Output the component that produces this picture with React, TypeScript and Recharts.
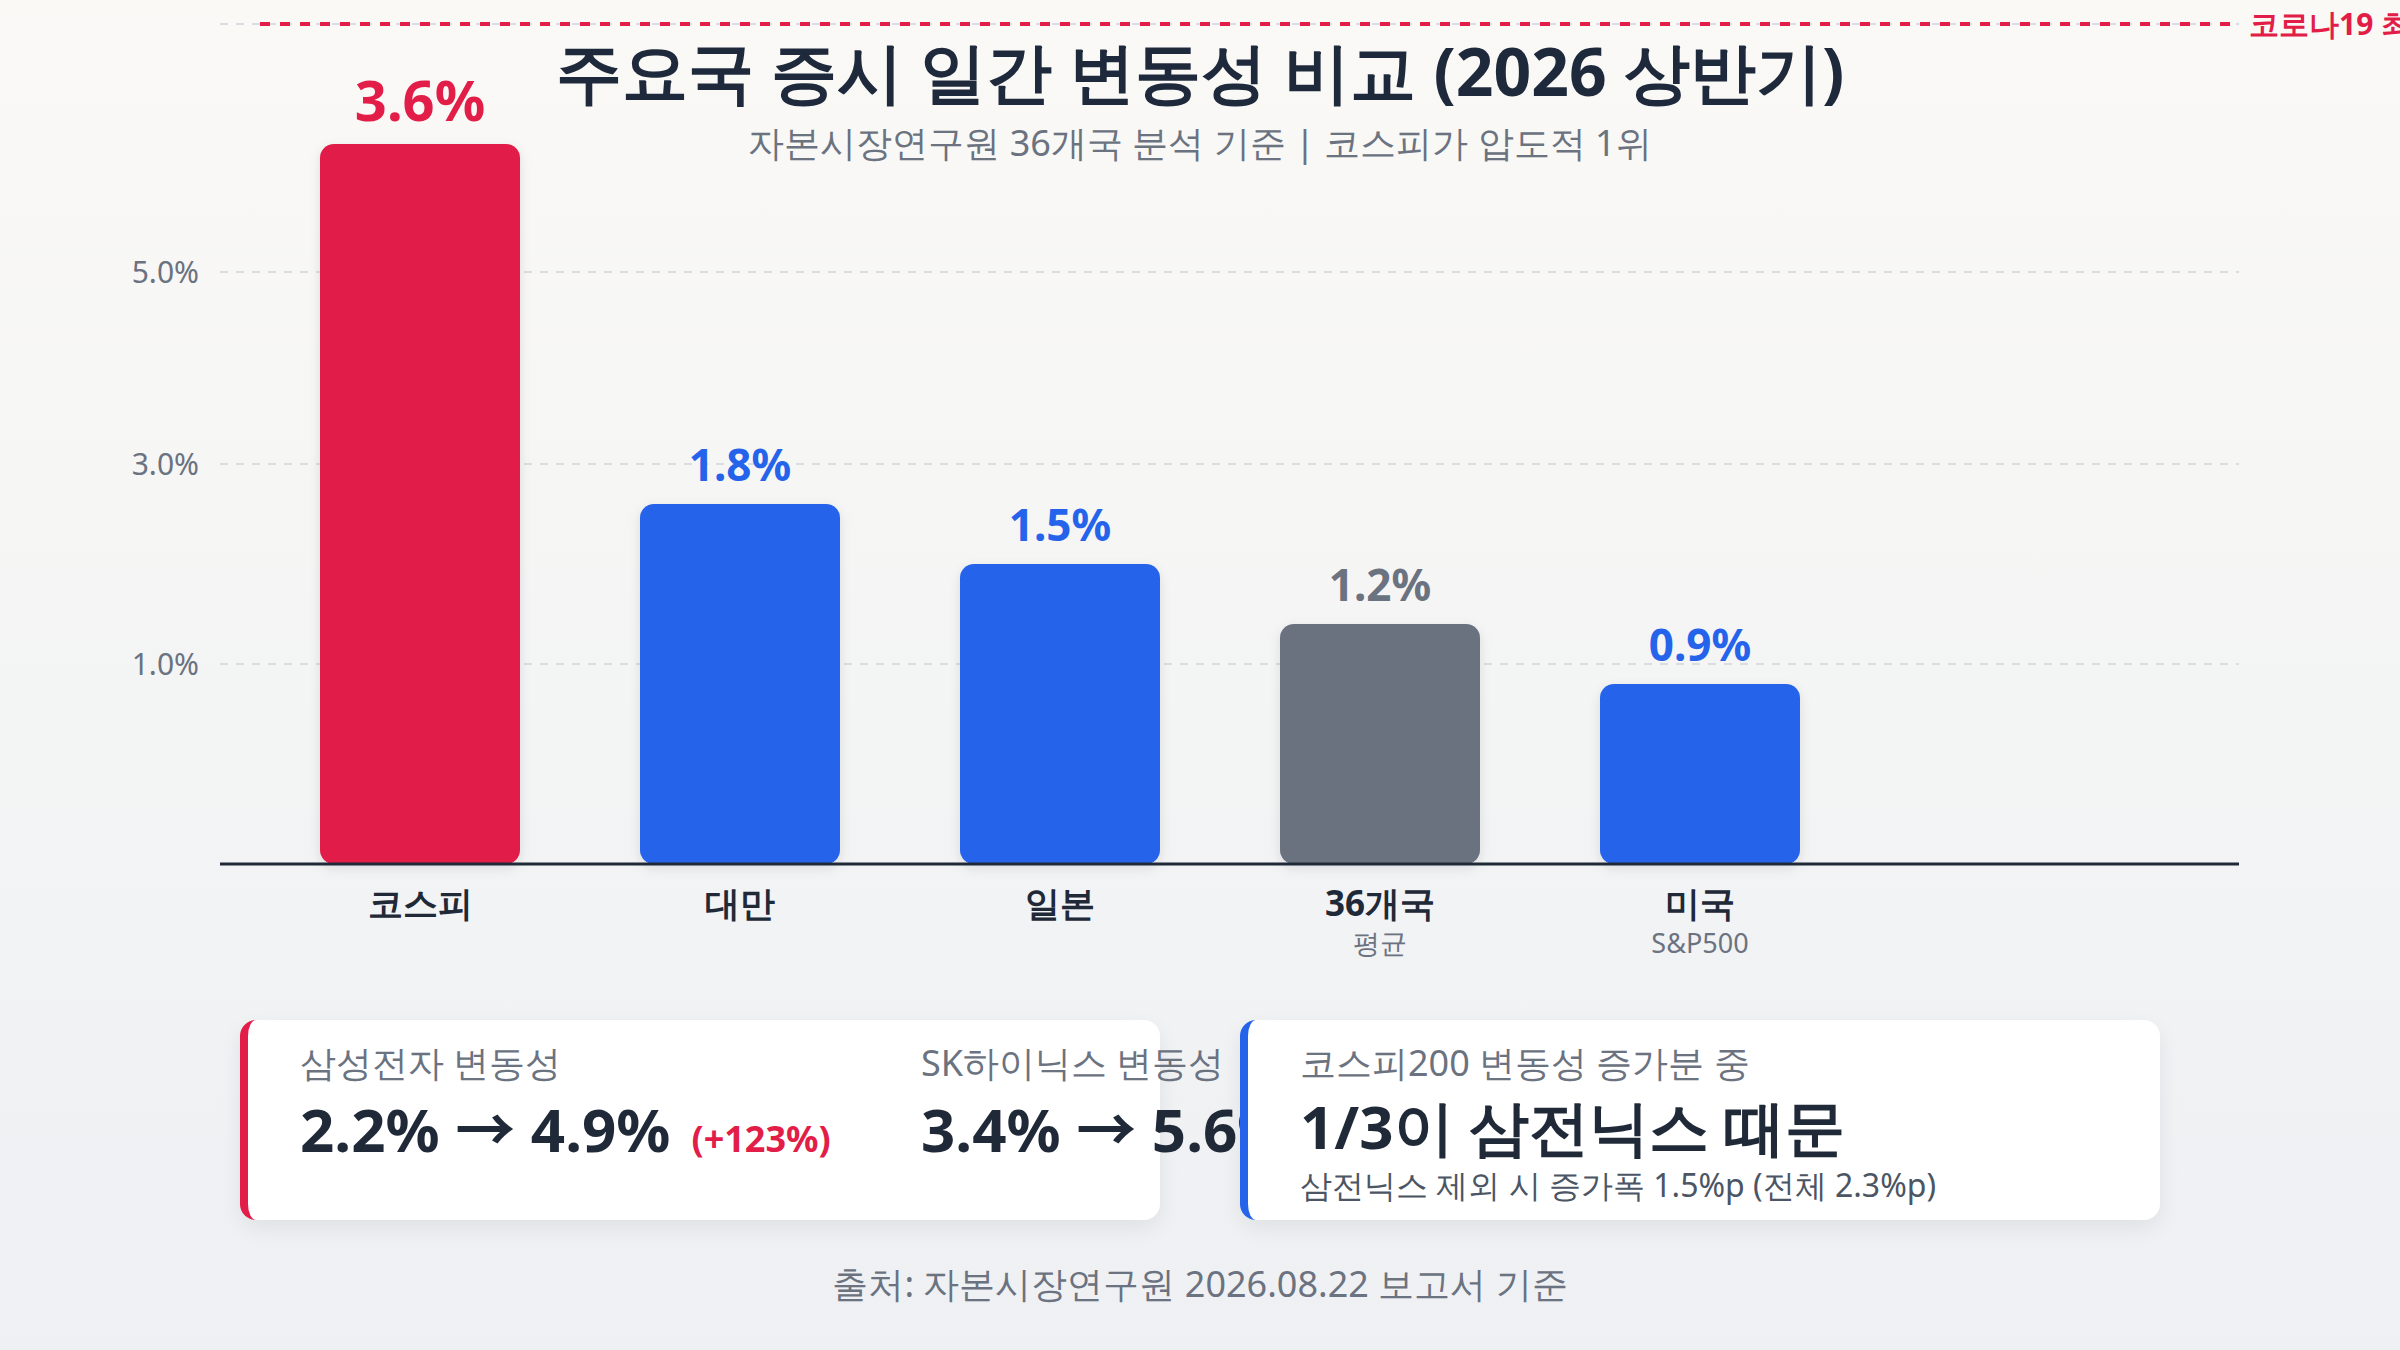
import React from 'react';
import { BarChart, Bar, XAxis, YAxis, CartesianGrid, ReferenceLine, Cell, LabelList } from 'recharts';

// ---------- data ----------
const categories = ['코스피', '대만', '일본', '36개국', '미국'];
const subLabels = ['', '', '', '평균', 'S&P500'];
const volatility = [3.6, 1.8, 1.5, 1.2, 0.9];
const valueLabels = ['3.6%', '1.8%', '1.5%', '1.2%', '0.9%'];
const yTicks = [1, 2, 2.96];
const yTickLabels = ['1.0%', '3.0%', '5.0%'];
const covidLevel = 4.2;
const covidLabel = '코로나19 최고치';

const titleText = '주요국 증시 일간 변동성 비교 (2026 상반기)';
const subtitleText = '자본시장연구원 36개국 분석 기준 | 코스피가 압도적 1위';
const footerText = '출처: 자본시장연구원 2026.08.22 보고서 기준';

const stockCards = [
  { label: '삼성전자 변동성', from: '2.2%', to: '4.9%', change: '(+123%)' },
  { label: 'SK하이닉스 변동성', from: '3.4%', to: '5.6%', change: '(+65%)' },
];
const summaryLabel = '코스피200 변동성 증가분 중';
const summaryMain = '1/3이 삼전닉스 때문';
const summaryNote = '삼전닉스 제외 시 증가폭 1.5%p (전체 2.3%p)';

const data = categories.map((name, i) => ({ name, value: volatility[i] }));

// ---------- styles ----------
const FONT = '"Noto Sans", sans-serif';
const RED = '#e11d48';
const BLUE = '#2563eb';
const GRAY = '#6b7280';
const DARK = '#1f2937';
const highlightColor: Record<string, string> = { '코스피': RED, '36개국': GRAY };
const colorOf = (name: string) => highlightColor[name] || BLUE;
const X_PAD_LEFT = 40;

const CategoryTick = (props: any) => {
  const { x, y, payload } = props;
  const idx = categories.indexOf(payload.value);
  const sub = idx >= 0 ? subLabels[idx] : '';
  return (
    <g>
      <text x={x} y={y + 52} textAnchor="middle" fontSize={35} fontWeight={700} fill={DARK} fontFamily={FONT}>
        {payload.value}
      </text>
      {sub ? (
        <text x={x} y={y + 89} textAnchor="middle" fontSize={27} fill={GRAY} fontFamily={FONT}>
          {sub}
        </text>
      ) : null}
    </g>
  );
};

const ValueLabel = (props: any) => {
  const { x, y, width, index, value } = props;
  const i = typeof index === 'number' ? index : volatility.indexOf(Number(value));
  const name = categories[i];
  const big = i === 0;
  return (
    <text
      x={Number(x) + Number(width) / 2}
      y={Number(y) - 23}
      textAnchor="middle"
      fontSize={big ? 56 : 44}
      fontWeight={700}
      fill={colorOf(name)}
      fontFamily={FONT}
    >
      {valueLabels[i]}
    </text>
  );
};

const CovidLine = (p: any) => {
  const left = Math.min(p.x1, p.x2) + X_PAD_LEFT;
  const right = Math.max(p.x1, p.x2);
  return <line x1={left} y1={p.y1} x2={right} y2={p.y2} stroke={RED} strokeWidth={4} strokeDasharray="10 10" />;
};

const labelStyle: React.CSSProperties = { fontSize: 36, lineHeight: '40px', color: GRAY, whiteSpace: 'nowrap' };
const bigStyle: React.CSSProperties = {
  marginTop: 7,
  fontSize: 60,
  lineHeight: '72px',
  fontWeight: 700,
  color: DARK,
  whiteSpace: 'nowrap',
};
const arrowStyle: React.CSSProperties = { fontFamily: '"Noto Sans CJK KR", sans-serif', fontWeight: 700 };
const cardBase: React.CSSProperties = {
  flex: '0 0 920px',
  width: 920,
  minWidth: 0,
  boxSizing: 'border-box',
  height: 200,
  background: '#ffffff',
  borderRadius: 16,
  boxShadow: '0 8px 22px rgba(15, 23, 42, 0.07)',
  padding: '23px 0 0 52px',
  position: 'relative',
  overflow: 'visible',
};

export default function App() {
  return (
    <div
      style={{
        position: 'absolute',
        left: 0,
        top: 0,
        width: 2400,
        height: 1350,
        overflow: 'hidden',
        background: 'linear-gradient(180deg, #faf9f6 0%, #eef0f3 100%)',
        fontFamily: FONT,
      }}
    >
      <div style={{ position: 'absolute', left: 0, top: 0 }}>
        <BarChart
          width={2400}
          height={1350}
          data={data}
          margin={{ top: 24, right: 161, bottom: 386, left: 100 }}
          barCategoryGap="18.75%"
        >
          <defs>
            <filter id="barShadow" x="-20%" y="-10%" width="140%" height="130%">
              <feDropShadow dx="0" dy="4" stdDeviation="6" floodColor="#0f172a" floodOpacity="0.10" />
            </filter>
          </defs>
          <CartesianGrid vertical={false} stroke="#d9dce1" strokeWidth={2} strokeDasharray="8 8" />
          <XAxis
            dataKey="name"
            axisLine={{ stroke: DARK, strokeWidth: 3 }}
            tickLine={false}
            tickSize={0}
            tickMargin={0}
            height={100}
            interval={0}
            padding={{ left: X_PAD_LEFT, right: 379 }}
            tick={<CategoryTick />}
          />
          <YAxis
            domain={[0, 4.2]}
            ticks={yTicks}
            tickFormatter={(v: number) => yTickLabels[yTicks.indexOf(v)]}
            axisLine={false}
            tickLine={false}
            tickSize={0}
            tickMargin={21}
            width={120}
            tick={{ fill: GRAY, fontSize: 30, fontFamily: FONT }}
          />
          <ReferenceLine
            y={covidLevel}
            stroke={RED}
            shape={CovidLine}
            label={{ value: covidLabel, position: 'right', fill: RED, fontSize: 30, fontWeight: 700, offset: 10, fontFamily: FONT }}
          />
          <Bar dataKey="value" radius={14} isAnimationActive={false}>
            {data.map((d) => (
              <Cell key={d.name} fill={colorOf(d.name)} filter="url(#barShadow)" />
            ))}
            <LabelList dataKey="value" position="top" content={<ValueLabel />} />
          </Bar>
        </BarChart>
      </div>

      <div
        style={{
          position: 'absolute',
          left: 0,
          top: 37,
          width: 2400,
          textAlign: 'center',
          fontSize: 66,
          lineHeight: '66px',
          fontWeight: 700,
          color: '#1e293b',
        }}
      >
        {titleText}
      </div>
      <div
        style={{
          position: 'absolute',
          left: 0,
          top: 123,
          width: 2400,
          textAlign: 'center',
          fontSize: 36,
          lineHeight: '40px',
          color: GRAY,
        }}
      >
        {subtitleText}
      </div>

      <div style={{ position: 'absolute', left: 240, top: 1020, width: 1920, height: 200, display: 'flex', gap: 80 }}>
        <div style={{ ...cardBase, borderLeft: `8px solid ${RED}`, display: 'flex' }}>
          {stockCards.map((c, i) => (
            <div key={c.label} style={{ flex: i === 0 ? '0 0 621px' : '0 0 auto', minWidth: i === 0 ? 621 : 0 }}>
              <div style={labelStyle}>{c.label}</div>
              <div style={bigStyle}>
                {c.from} <span style={arrowStyle}>→</span> {c.to}
                <span style={{ marginLeft: 21, fontSize: 36, color: RED }}>{c.change}</span>
              </div>
            </div>
          ))}
        </div>
        <div style={{ ...cardBase, borderLeft: `8px solid ${BLUE}`, zIndex: 2 }}>
          <div style={labelStyle}>{summaryLabel}</div>
          <div style={bigStyle}>{summaryMain}</div>
          <div style={{ marginTop: 3, fontSize: 32, lineHeight: '40px', color: '#4b5563', whiteSpace: 'nowrap' }}>
            {summaryNote}
          </div>
        </div>
      </div>

      <div
        style={{
          position: 'absolute',
          left: 0,
          top: 1264,
          width: 2400,
          textAlign: 'center',
          fontSize: 36,
          lineHeight: '40px',
          color: GRAY,
        }}
      >
        {footerText}
      </div>
    </div>
  );
}
